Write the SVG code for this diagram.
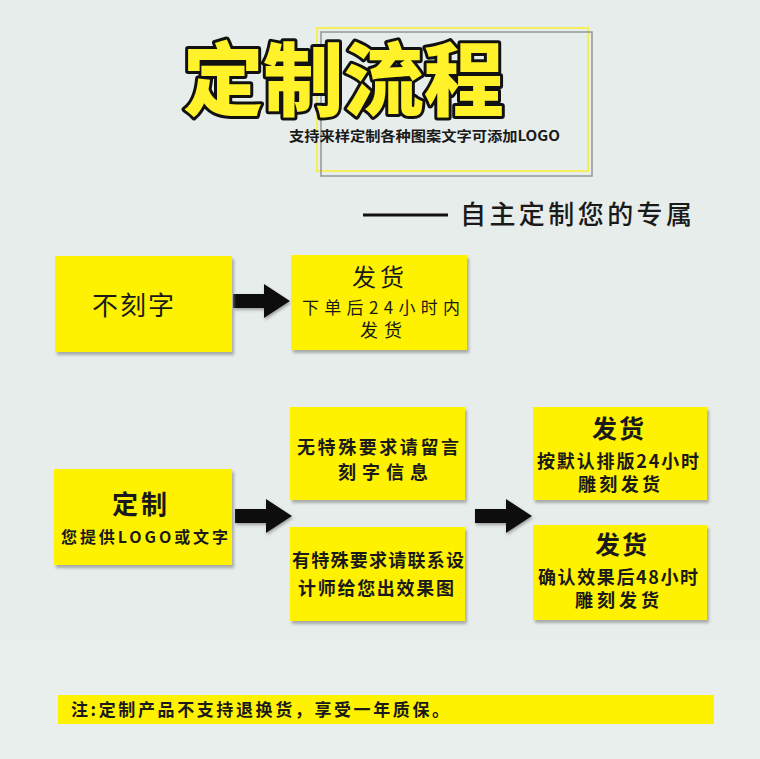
<svg xmlns="http://www.w3.org/2000/svg" width="760" height="759" viewBox="0 0 760 759">
  <style>
    .box { fill: #fff200; filter: url(#sh); }
    .t { font-family: "Noto Sans CJK SC", "Liberation Sans", sans-serif; fill: #1a1a1a; }
    .b { font-weight: 700; }
    .r { font-weight: 400; }
    .arrow { fill: #0d0d0d; filter: url(#ash); }
  </style>
  <defs>
    <filter id="sh" x="-10%" y="-10%" width="125%" height="125%">
      <feDropShadow dx="2" dy="3" stdDeviation="1.5" flood-color="#8a8f8c" flood-opacity="0.7"/>
    </filter>
    <filter id="ash" x="-20%" y="-30%" width="150%" height="170%">
      <feDropShadow dx="1" dy="2" stdDeviation="1.5" flood-color="#555" flood-opacity="0.5"/>
    </filter>
    <polygon id="arr" points="0,-7 31,-7 31,-17 57,0 31,17 31,7 0,7"/>
  </defs>

  <rect width="760" height="759" fill="#e7edea"/>
  <rect x="0" y="640" width="760" height="119" fill="#e9efec"/>

  <g id="title">
    <rect x="317" y="28" width="271" height="143" fill="none" stroke="#f4ee5a" stroke-width="2"/>
    <rect x="321" y="32" width="271" height="144" fill="none" stroke="#8e9894" stroke-width="1.5"/>
    <text x="183" y="109" font-size="80" textLength="321" lengthAdjust="spacingAndGlyphs" font-family="'Noto Sans CJK SC', sans-serif" font-weight="900" fill="#fff22a" stroke="#111" stroke-width="6" stroke-linejoin="round" paint-order="stroke">定制流程</text>
    <text class="t b" x="289" y="141" font-size="14" textLength="271" lengthAdjust="spacingAndGlyphs">支持来样定制各种图案文字可添加LOGO</text>
  </g>

  <g id="slogan">
    <line x1="363" y1="215" x2="448" y2="215" stroke="#111" stroke-width="3"/>
    <text class="t" x="460" y="224" font-size="26" font-weight="500" textLength="232">自主定制您的专属</text>
  </g>

  <g id="connectors">
    <use href="#arr" class="arrow" transform="translate(233,301)"/>
    <use href="#arr" class="arrow" transform="translate(235,516)"/>
    <use href="#arr" class="arrow" transform="translate(475,516)"/>
  </g>

  <g id="n-no-engrave">
    <rect class="box" x="55" y="256" width="177" height="96"/>
    <text class="t r" x="92" y="315" font-size="26" textLength="82">不刻字</text>
  </g>

  <g id="n-ship-1">
    <rect class="box" x="291" y="255" width="176" height="95"/>
    <text class="t r" x="352" y="286" font-size="24" textLength="52">发货</text>
    <text class="t r" x="302" y="314" font-size="17" textLength="158">下单后24小时内</text>
    <text class="t r" x="360" y="337" font-size="18" textLength="42">发货</text>
  </g>

  <g id="n-custom">
    <rect class="box" x="54" y="469" width="178" height="96"/>
    <text class="t b" x="112" y="514" font-size="26" textLength="55">定制</text>
    <text class="t b" x="61" y="543" font-size="16" textLength="167">您提供LOGO或文字</text>
  </g>

  <g id="n-no-special">
    <rect class="box" x="290" y="407" width="175" height="93"/>
    <text class="t b" x="297" y="454" font-size="18" textLength="162">无特殊要求请留言</text>
    <text class="t b" x="338" y="479" font-size="18" textLength="90">刻字信息</text>
  </g>

  <g id="n-special">
    <rect class="box" x="290" y="527" width="175" height="94"/>
    <text class="t b" x="292" y="567" font-size="18" textLength="172">有特殊要求请联系设</text>
    <text class="t b" x="298" y="595" font-size="18" textLength="156">计师给您出效果图</text>
  </g>

  <g id="n-ship-2">
    <rect class="box" x="533" y="407" width="174" height="93"/>
    <text class="t b" x="592" y="438" font-size="25" textLength="52">发货</text>
    <text class="t b" x="537" y="468" font-size="18" textLength="162">按默认排版24小时</text>
    <text class="t b" x="578" y="491" font-size="18" textLength="82">雕刻发货</text>
  </g>

  <g id="n-ship-3">
    <rect class="box" x="533" y="525" width="174" height="95"/>
    <text class="t b" x="595" y="554" font-size="25" textLength="52">发货</text>
    <text class="t b" x="538" y="584" font-size="18" textLength="160">确认效果后48小时</text>
    <text class="t b" x="575" y="607" font-size="18" textLength="84">雕刻发货</text>
  </g>

  <g id="note">
    <rect x="58" y="695" width="656" height="29" fill="#fff200"/>
    <text class="t b" x="71" y="716" font-size="17" textLength="378">注:定制产品不支持退换货，享受一年质保。</text>
  </g>
</svg>
